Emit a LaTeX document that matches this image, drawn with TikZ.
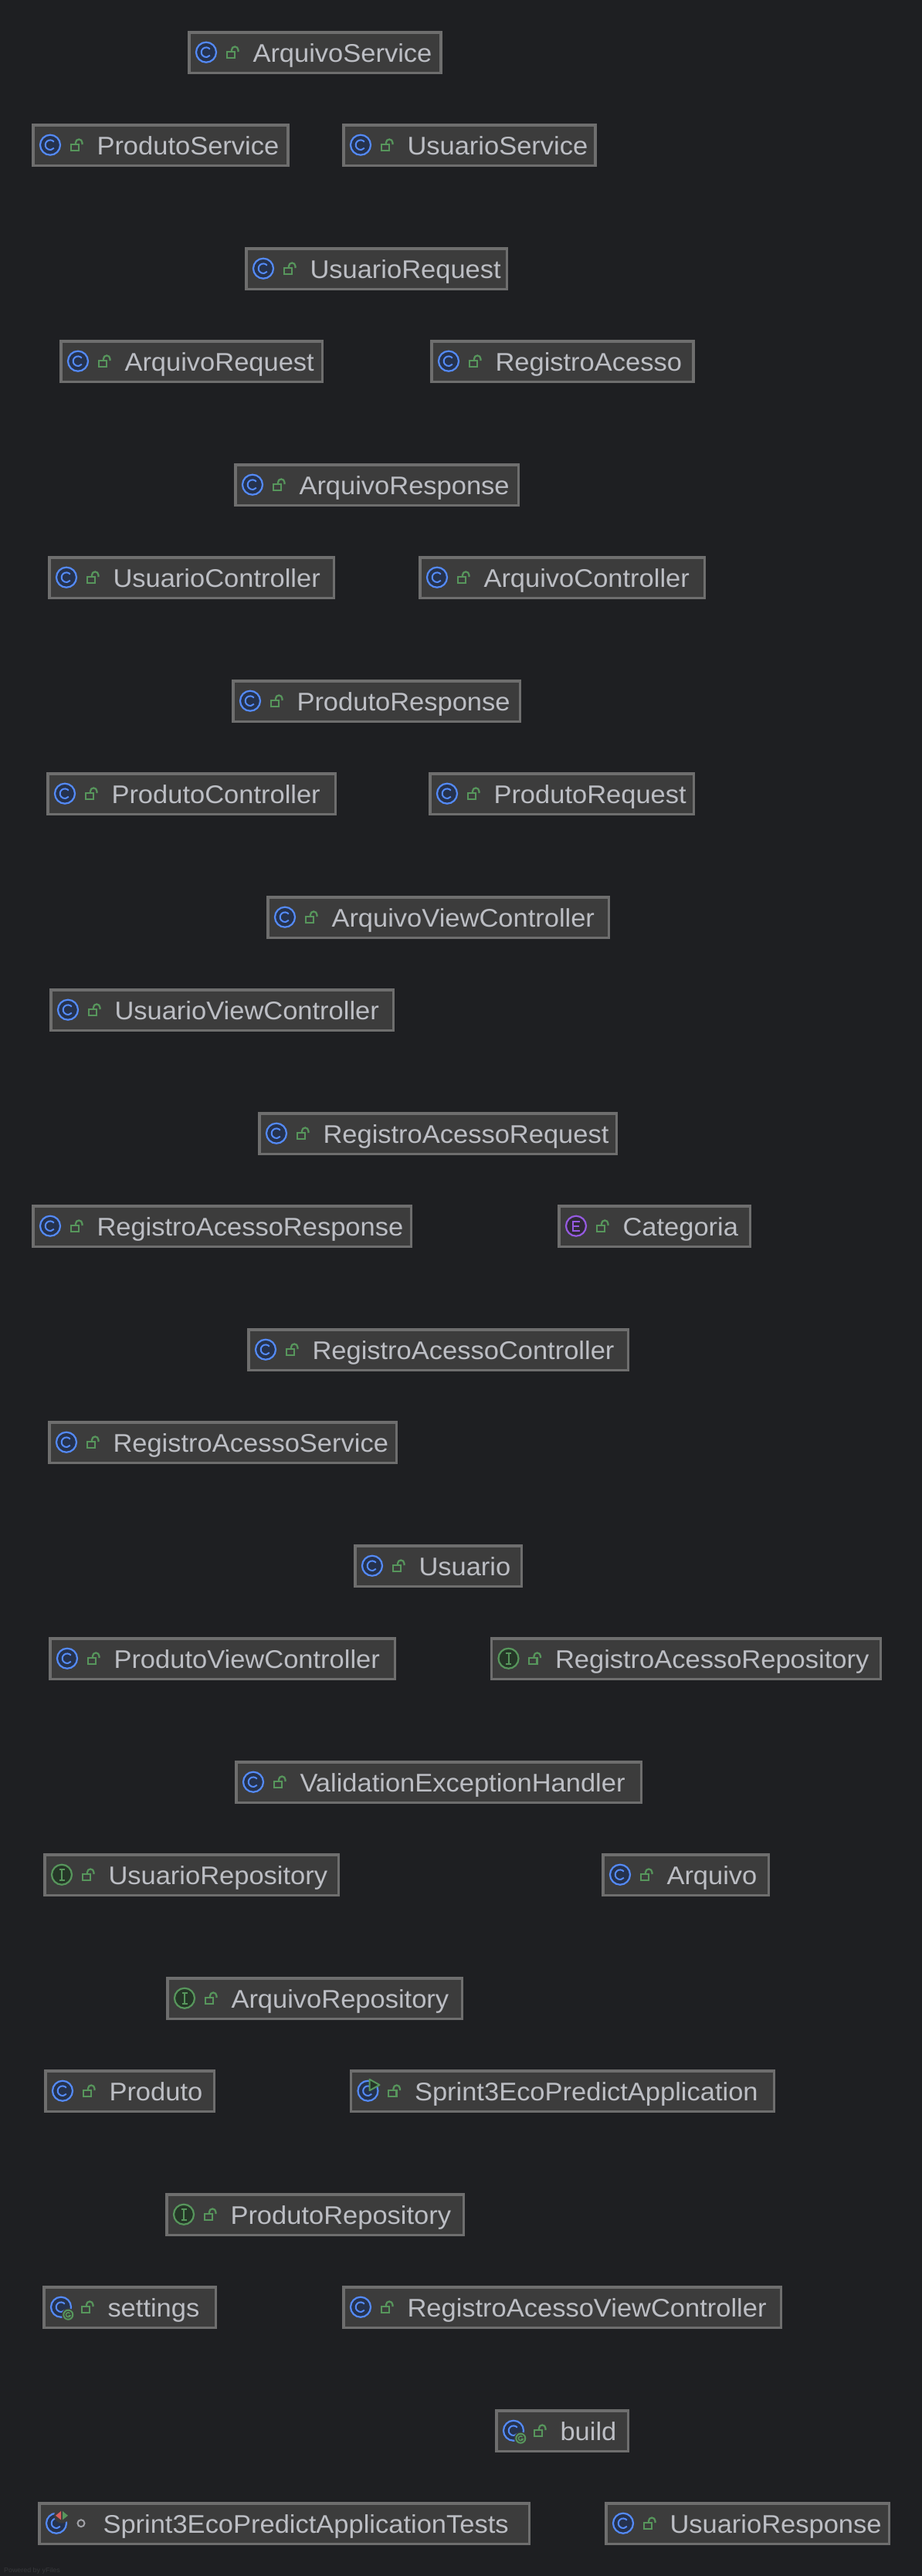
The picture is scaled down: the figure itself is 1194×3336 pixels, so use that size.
\documentclass[tikz,border=0pt]{standalone}
\usepackage{fontspec}
\setmainfont[FakeStretch=1.045]{Liberation Sans}
\definecolor{bg}{HTML}{1E1F22}
\definecolor{boxfill}{HTML}{3C3C3C}
\definecolor{boxline}{HTML}{6E6E6E}
\definecolor{txt}{HTML}{BCBEC4}
\definecolor{cblue}{HTML}{548AF7}
\definecolor{cbluefill}{HTML}{25324D}
\definecolor{igreen}{HTML}{57965C}
\definecolor{igreenfill}{HTML}{253627}
\definecolor{epurple}{HTML}{955AE0}
\definecolor{epurplefill}{HTML}{2F2936}
\definecolor{tred}{HTML}{DB5C5C}
\definecolor{dimgray}{HTML}{37383B}
\tikzset{
  x=1pt,y=1pt,
  umlbox/.style={draw=boxline,fill=boxfill,line width=3.5pt,inner sep=0pt,outer sep=0pt,anchor=north west,minimum height=52.5pt},
  umllabel/.style={text=txt,inner sep=0pt,outer sep=0pt,anchor=base west,font=\fontsize{33}{36}\selectfont},
  lockline/.style={draw=igreen,line width=2.2pt},
  glyphc/.style={draw=cblue,line width=2pt},
}
% icons: drawn in a scope whose origin is the box's outer top left corner
\newcommand{\icircle}[2]{\draw[draw=#1,fill=#2,line width=2.2pt] (24,-27.7) circle (13);}
\newcommand{\iconC}{\icircle{cblue}{cbluefill}\draw[glyphc] (24,-27.7) ++(40:6.3) arc (40:320:6.3);}
\newcommand{\iconI}{\icircle{igreen}{igreenfill}\draw[draw=igreen,line width=2pt] (24,-21) -- (24,-34.5) (20.5,-21) -- (27.5,-21) (20.5,-34.5) -- (27.5,-34.5);}
\newcommand{\iconE}{\icircle{epurple}{epurplefill}\draw[draw=epurple,line width=2pt] (29,-21.5) -- (20,-21.5) -- (20,-34) -- (29,-34) (20,-27.7) -- (28,-27.7);}
\newcommand{\iconG}{\iconC\fill[boxfill] (33.3,-37.7) circle (8.5);\draw[draw=igreen,line width=2pt] (33.3,-37.7) circle (6);\draw[draw=igreen,line width=1.5pt] (33.3,-37.7) ++(40:2.9) arc (40:340:2.9) -- ++(-2.3,0);}
\newcommand{\iconRun}{\iconC\draw[draw=igreen,fill=igreenfill,line width=2pt,line join=round] (26,-12.7) -- (39,-20) -- (26,-27.3) -- cycle;}
\newcommand{\iconTest}{\iconC\fill[boxfill] (31,-17.7) circle (10);\fill[tred] (30,-12) -- (30,-23.3) -- (23,-17.7) -- cycle;\fill[igreen] (32,-12) -- (32,-23.3) -- (39,-17.7) -- cycle;}
\newcommand{\visLock}{\draw[lockline] (50.6,-26.6) rectangle (61,-35);\draw[lockline] (57,-26.6) -- (57,-24.6) arc (180:0:4.2) -- (65.4,-27);}
\newcommand{\visDot}{\draw[draw=txt!85!black,line width=2pt] (56,-27.7) circle (4.5);}
% name, left, right, top, text, icon, visibility
\newcommand{\umlitem}[7]{%
  \pgfmathsetlengthmacro{\boxw}{#3-#2-3.5}%
  \node[umlbox,minimum width=\boxw] (#1) at (#2+1.75,-#4-1.75) {};
  \begin{scope}[shift={(#2,-#4)}]#6#7\end{scope}
  \node[umllabel] (#1-text) at (#2+84.5,-#4-40.6) {#5};
}
\begin{document}
\begin{tikzpicture}
\useasboundingbox (0,0) rectangle (1194,-3336);
\fill[bg] (0,0) rectangle (1194,-3336);
\umlitem{arquivoservice}{243}{572.5}{40}{ArquivoService}{\iconC}{\visLock}
\umlitem{produtoservice}{41}{374.5}{160}{ProdutoService}{\iconC}{\visLock}
\umlitem{usuarioservice}{443}{772.5}{160}{UsuarioService}{\iconC}{\visLock}
\umlitem{usuariorequest}{317}{658}{320}{UsuarioRequest}{\iconC}{\visLock}
\umlitem{arquivorequest}{77}{419}{440}{ArquivoRequest}{\iconC}{\visLock}
\umlitem{registroacesso}{557}{899.5}{440}{RegistroAcesso}{\iconC}{\visLock}
\umlitem{arquivoresponse}{303}{673}{600}{ArquivoResponse}{\iconC}{\visLock}
\umlitem{usuariocontroller}{62}{434}{720}{UsuarioController}{\iconC}{\visLock}
\umlitem{arquivocontroller}{542}{914}{720}{ArquivoController}{\iconC}{\visLock}
\umlitem{produtoresponse}{300}{675}{880}{ProdutoResponse}{\iconC}{\visLock}
\umlitem{produtocontroller}{60}{436}{1000}{ProdutoController}{\iconC}{\visLock}
\umlitem{produtorequest}{555}{900}{1000}{ProdutoRequest}{\iconC}{\visLock}
\umlitem{arquivoview}{345}{790}{1160}{ArquivoViewController}{\iconC}{\visLock}
\umlitem{usuarioview}{64}{511}{1280}{UsuarioViewController}{\iconC}{\visLock}
\umlitem{registrorequest}{334}{800}{1440}{RegistroAcessoRequest}{\iconC}{\visLock}
\umlitem{registroresponse}{41}{534}{1560}{RegistroAcessoResponse}{\iconC}{\visLock}
\umlitem{categoria}{722}{973}{1560}{Categoria}{\iconE}{\visLock}
\umlitem{registrocontroller}{320}{815}{1720}{RegistroAcessoController}{\iconC}{\visLock}
\umlitem{registroservice}{62}{515}{1840}{RegistroAcessoService}{\iconC}{\visLock}
\umlitem{usuario}{458}{677}{2000}{Usuario}{\iconC}{\visLock}
\umlitem{produtoview}{63}{513}{2120}{ProdutoViewController}{\iconC}{\visLock}
\umlitem{registrorepo}{634.5}{1142}{2120}{RegistroAcessoRepository}{\iconI}{\visLock}
\umlitem{validation}{304}{832}{2280}{ValidationExceptionHandler}{\iconC}{\visLock}
\umlitem{usuariorepo}{56}{440}{2400}{UsuarioRepository}{\iconI}{\visLock}
\umlitem{arquivo}{779}{997}{2400}{Arquivo}{\iconC}{\visLock}
\umlitem{arquivorepo}{215}{600}{2560}{ArquivoRepository}{\iconI}{\visLock}
\umlitem{produto}{57}{279}{2680}{Produto}{\iconC}{\visLock}
\umlitem{application}{452.5}{1004}{2680}{Sprint3EcoPredictApplication}{\iconRun}{\visLock}
\umlitem{produtorepo}{214}{602}{2840}{ProdutoRepository}{\iconI}{\visLock}
\umlitem{settings}{55}{281}{2960}{settings}{\iconG}{\visLock}
\umlitem{registroview}{443}{1013}{2960}{RegistroAcessoViewController}{\iconC}{\visLock}
\umlitem{build}{641}{815}{3120}{build}{\iconG}{\visLock}
\umlitem{tests}{49}{687}{3240}{Sprint3EcoPredictApplicationTests}{\iconTest}{\visDot}
\umlitem{usuarioresponse}{783}{1153}{3240}{UsuarioResponse}{\iconC}{\visLock}
\node[text=dimgray,inner sep=0pt,anchor=base west,font=\fontsize{8.5}{10}\selectfont] (poweredby) at (5,-3331) {Powered by yFiles};
\end{tikzpicture}
\end{document}
